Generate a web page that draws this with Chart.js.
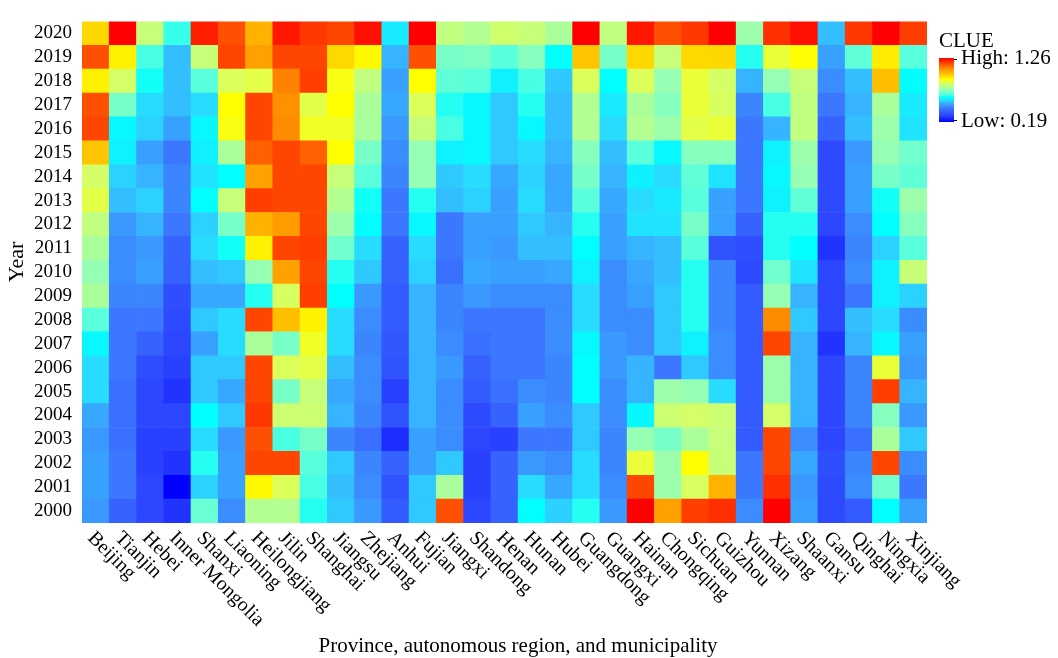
<!DOCTYPE html>
<html>
<head>
<meta charset="utf-8">
<script src="https://cdn.jsdelivr.net/npm/chart.js@4/dist/chart.umd.min.js"></script>
<style>
  body { margin: 0; background: #fff; }
  #wrap { width: 1058px; height: 658px; }
</style>
</head>
<body>
<div id="wrap"><canvas id="clueHeat" width="1058" height="658"></canvas></div>
<script>
// provinces along x, years along y
var provinces = ["Beijing", "Tianjin", "Hebei", "Inner Mongolia", "Shanxi", "Liaoning", "Heilongjiang",
  "Jilin", "Shanghai", "Jiangsu", "Zhejiang", "Anhui", "Fujian", "Jiangxi", "Shandong", "Henan",
  "Hunan", "Hubei", "Guangdong", "Guangxi", "Hainan", "Chongqing", "Sichuan", "Guizhou", "Yunnan",
  "Xizang", "Shaanxi", "Gansu", "Qinghai", "Ningxia", "Xinjiang"];
var years = [2000, 2001, 2002, 2003, 2004, 2005, 2006, 2007, 2008, 2009, 2010,
  2011, 2012, 2013, 2014, 2015, 2016, 2017, 2018, 2019, 2020];

var clueLow = 0.19;
var clueHigh = 1.26;

// CLUE values, one array per year, in province order
var v2000 = [.47, .37, .30, .27, .67, .45, .77, .77, .62, .53, .47, .35, .53, 1.16, .30, .37, .60, .54, .62, .47, 1.26, 1.05, 1.18, 1.20, .45, 1.26, .48, .31, .35, .60, .48];
var v2001 = [.48, .42, .30, .19, .54, .48, .91, .85, .64, .52, .45, .33, .53, .76, .29, .37, .55, .49, .55, .45, 1.17, .74, .84, 1.02, .42, 1.20, .47, .31, .45, .68, .42];
var v2002 = [.48, .42, .29, .27, .62, .48, 1.17, 1.17, .65, .53, .44, .37, .48, .53, .29, .37, .47, .45, .55, .44, .87, .74, .90, .80, .42, 1.17, .49, .32, .44, 1.17, .45];
var v2003 = [.47, .40, .29, .29, .55, .47, 1.16, .64, .69, .44, .40, .26, .48, .45, .30, .29, .42, .42, .53, .44, .73, .69, .76, .80, .35, 1.17, .45, .30, .40, .76, .53];
var v2004 = [.49, .40, .30, .30, .60, .53, 1.19, .81, .81, .51, .44, .33, .51, .45, .31, .37, .48, .45, .53, .45, .59, .81, .83, .81, .35, .83, .51, .30, .44, .71, .47];
var v2005 = [.55, .40, .30, .27, .53, .49, 1.17, .69, .80, .49, .45, .29, .51, .45, .35, .40, .45, .44, .60, .45, .51, .74, .73, .55, .35, .74, .51, .30, .44, 1.18, .51];
var v2006 = [.55, .42, .32, .29, .53, .53, 1.17, .85, .86, .52, .45, .33, .51, .47, .37, .42, .42, .44, .60, .47, .51, .42, .53, .45, .35, .74, .51, .30, .44, .87, .47];
var v2007 = [.59, .42, .37, .30, .48, .55, .76, .69, .88, .55, .44, .34, .51, .45, .40, .42, .42, .45, .59, .47, .45, .53, .58, .45, .35, 1.17, .51, .27, .51, .59, .48];
var v2008 = [.65, .42, .42, .31, .53, .55, 1.17, 1.00, .92, .55, .45, .35, .51, .44, .42, .42, .42, .45, .55, .45, .45, .53, .62, .44, .35, 1.09, .53, .30, .52, .55, .45];
var v2009 = [.76, .44, .44, .32, .49, .49, .62, .84, 1.18, .60, .47, .35, .51, .44, .47, .45, .45, .45, .55, .45, .48, .53, .62, .44, .35, .73, .51, .30, .42, .58, .54];
var v2010 = [.73, .45, .48, .37, .52, .53, .73, 1.05, 1.17, .62, .53, .37, .54, .40, .49, .48, .48, .49, .58, .45, .49, .52, .62, .44, .31, .68, .56, .30, .45, .58, .80];
var v2011 = [.76, .45, .47, .37, .55, .61, .92, 1.17, 1.18, .68, .55, .37, .55, .42, .48, .47, .52, .52, .60, .48, .51, .52, .65, .33, .32, .62, .60, .27, .44, .54, .65];
var v2012 = [.79, .47, .51, .42, .54, .69, 1.02, 1.06, 1.17, .74, .60, .42, .59, .42, .48, .48, .53, .51, .62, .48, .56, .56, .69, .48, .37, .62, .62, .30, .45, .60, .71];
var v2013 = [.86, .52, .54, .44, .60, .80, 1.18, 1.17, 1.17, .77, .61, .42, .62, .52, .54, .48, .55, .49, .65, .49, .55, .57, .65, .48, .42, .58, .66, .31, .48, .61, .74];
var v2014 = [.83, .54, .51, .44, .56, .60, 1.05, 1.17, 1.17, .80, .65, .44, .73, .53, .55, .49, .54, .49, .69, .51, .58, .55, .66, .56, .42, .59, .73, .31, .48, .69, .66];
var v2015 = [.99, .58, .48, .42, .58, .76, 1.14, 1.17, 1.14, .90, .69, .45, .73, .58, .59, .53, .55, .51, .71, .52, .65, .59, .71, .71, .42, .58, .74, .31, .47, .73, .68];
var v2016 = [1.17, .59, .54, .48, .59, .89, 1.17, 1.09, .88, .88, .76, .47, .80, .64, .59, .53, .59, .52, .77, .55, .77, .74, .86, .87, .42, .51, .79, .37, .52, .74, .56];
var v2017 = [1.16, .69, .55, .52, .55, .90, 1.17, 1.08, .86, .90, .76, .49, .85, .62, .59, .53, .62, .52, .77, .57, .76, .71, .87, .84, .44, .64, .79, .42, .51, .76, .57];
var v2018 = [.92, .83, .61, .52, .65, .85, .86, 1.10, 1.18, .89, .79, .48, .90, .66, .65, .58, .64, .53, .85, .60, .85, .73, .87, .83, .51, .73, .80, .45, .52, 1.00, .60];
var v2019 = [1.16, .92, .64, .52, .80, 1.17, 1.05, 1.17, 1.17, .96, .91, .51, 1.16, .69, .70, .65, .71, .60, .99, .69, .96, .80, .96, .96, .62, .87, .90, .48, .66, .93, .65];
var v2020 = [.96, 1.26, .80, .63, 1.22, 1.16, 1.02, 1.23, 1.19, 1.17, 1.24, .57, 1.26, .79, .77, .82, .80, .76, 1.26, .79, 1.23, 1.16, 1.19, 1.26, .74, 1.20, 1.24, .52, 1.19, 1.26, 1.18];

var clueRows = [v2000, v2001, v2002, v2003, v2004, v2005, v2006, v2007, v2008, v2009, v2010,
  v2011, v2012, v2013, v2014, v2015, v2016, v2017, v2018, v2019, v2020];

// colour ramp, blue -> cyan -> yellow -> red
var ramp = [
  [0.000, [0, 0, 255]],
  [0.103, [45, 70, 255]],
  [0.215, [60, 120, 255]],
  [0.299, [54, 180, 255]],
  [0.336, [40, 220, 255]],
  [0.383, [0, 255, 255]],
  [0.430, [90, 255, 220]],
  [0.505, [150, 255, 180]],
  [0.570, [200, 255, 120]],
  [0.617, [220, 255, 90]],
  [0.664, [255, 255, 0]],
  [0.757, [255, 190, 0]],
  [0.841, [255, 140, 0]],
  [0.916, [255, 70, 0]],
  [1.000, [255, 0, 0]]
];

function rampColor(t) {
  t = Math.max(0, Math.min(1, t));
  for (var i = 1; i < ramp.length; i++) {
    if (t <= ramp[i][0]) {
      var a = ramp[i - 1], b = ramp[i];
      var f = (t - a[0]) / (b[0] - a[0]);
      var c = a[1].map(function (x, k) { return Math.round(x + (b[1][k] - x) * f); });
      return 'rgb(' + c.join(',') + ')';
    }
  }
  return 'rgb(255,0,0)';
}

function clueColor(v) {
  return rampColor((v - clueLow) / (clueHigh - clueLow));
}

var serif = '"Liberation Serif", "Times New Roman", serif';

var heatDatasets = years.map(function (yr, r) {
  return {
    label: String(yr),
    data: provinces.map(function () { return [yr - 0.5, yr + 0.5]; }),
    backgroundColor: clueRows[r].map(clueColor),
    borderWidth: 0,
    grouped: false,
    barPercentage: 1,
    categoryPercentage: 1
  };
});

// x labels, axis titles and colour legend drawn by hand
var extrasPlugin = {
  id: 'extras',
  afterDraw: function (chart) {
    var ctx = chart.ctx;
    var xs = chart.scales.x;
    ctx.save();
    ctx.fillStyle = '#000';
    ctx.font = '20px ' + serif;
    ctx.textAlign = 'left';
    ctx.textBaseline = 'middle';
    provinces.forEach(function (p, i) {
      var px = xs.getPixelForValue(i);
      ctx.save();
      ctx.translate(px - 5, 535);
      ctx.rotate(Math.PI / 4);
      ctx.fillText(p, 0, 0);
      ctx.restore();
    });

    ctx.font = '21px ' + serif;
    ctx.textAlign = 'center';
    ctx.textBaseline = 'alphabetic';
    ctx.fillText('Province, autonomous region, and municipality', 518, 652);

    ctx.save();
    ctx.translate(17, 262);
    ctx.rotate(-Math.PI / 2);
    ctx.font = '22px ' + serif;
    ctx.textBaseline = 'middle';
    ctx.fillText('Year', 0, 0);
    ctx.restore();

    // legend
    ctx.textAlign = 'left';
    ctx.fillText('CLUE', 939, 47);
    var g = ctx.createLinearGradient(0, 122, 0, 58);
    ramp.forEach(function (s) { g.addColorStop(s[0], 'rgb(' + s[1].join(',') + ')'); });
    ctx.fillStyle = g;
    ctx.fillRect(939, 58, 15, 64);
    ctx.strokeStyle = '#000';
    ctx.lineWidth = 1;
    ctx.beginPath();
    ctx.moveTo(954, 59.5); ctx.lineTo(957, 59.5);
    ctx.moveTo(954, 120.5); ctx.lineTo(957, 120.5);
    ctx.stroke();
    ctx.fillStyle = '#000';
    ctx.fillText('High: ' + clueHigh.toFixed(2), 961, 64);
    ctx.fillText('Low: ' + clueLow.toFixed(2), 961, 127);
    ctx.restore();
  }
};

var heatChart = new Chart(document.getElementById('clueHeat'), {
  type: 'bar',
  data: { labels: provinces, datasets: heatDatasets },
  plugins: [extrasPlugin],
  options: {
    responsive: false,
    animation: false,
    layout: { padding: { left: 0, top: 10, right: 131, bottom: 0 } },
    plugins: { legend: { display: false }, tooltip: { enabled: false } },
    scales: {
      x: {
        type: 'category',
        offset: true,
        grid: { display: false, drawTicks: false },
        border: { display: false },
        ticks: { display: false },
        afterFit: function (s) { s.height = 135; }
      },
      y: {
        type: 'linear',
        min: years[0] - 0.5,
        max: years[years.length - 1] + 0.5,
        grid: { display: false, drawTicks: false },
        border: { display: false },
        afterBuildTicks: function (s) { s.ticks = years.map(function (y) { return { value: y }; }); },
        afterFit: function (s) { s.width = 82; },
        ticks: {
          autoSkip: false,
          padding: 10,
          color: '#000',
          font: { family: serif, size: 19 },
          callback: function (v) { return String(v); }
        }
      }
    }
  }
});
</script>
</body>
</html>
